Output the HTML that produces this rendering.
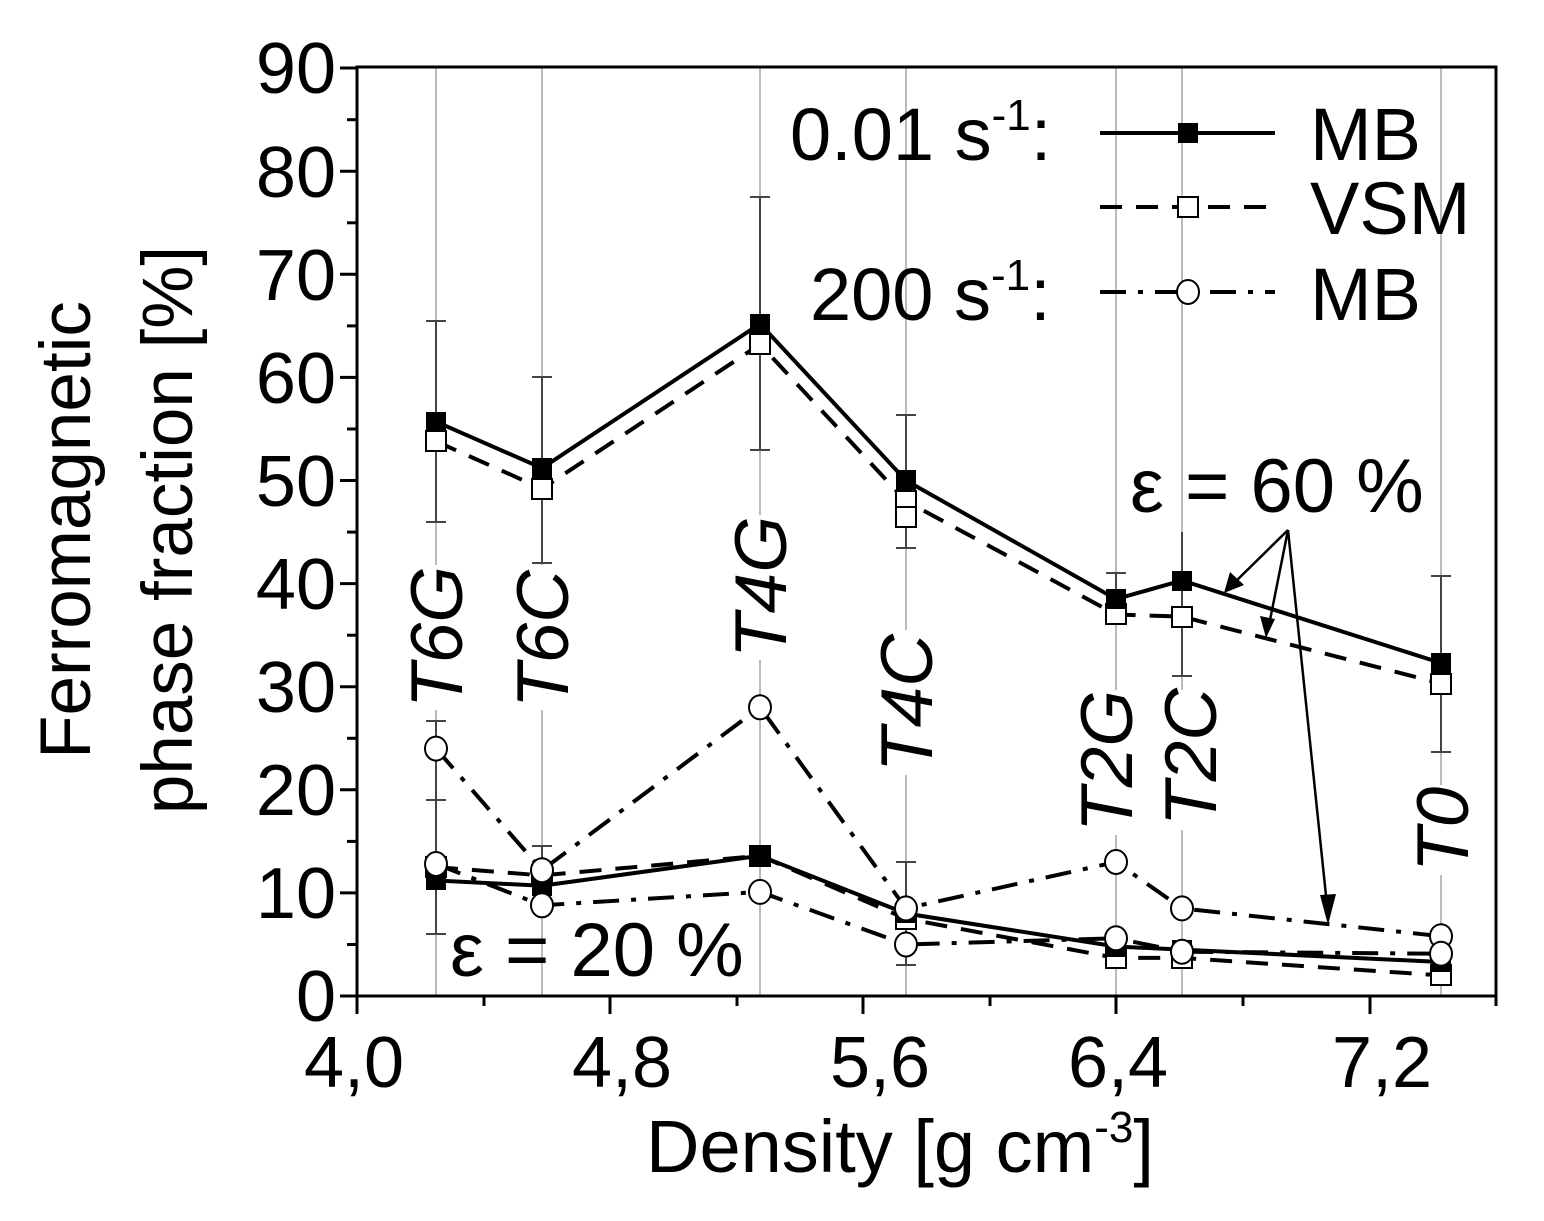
<!DOCTYPE html>
<html><head><meta charset="utf-8"><style>
html,body{margin:0;padding:0;background:#fff}
svg{display:block}
text{font-family:"Liberation Sans",sans-serif;fill:#000}
</style></head><body>
<svg width="1544" height="1221" viewBox="0 0 1544 1221" xmlns="http://www.w3.org/2000/svg">
<rect width="1544" height="1221" fill="#fff"/>
<g stroke="#bbb" stroke-width="2">
<line x1="436" y1="67" x2="436" y2="996"/><line x1="542" y1="67" x2="542" y2="996"/>
<line x1="760" y1="67" x2="760" y2="996"/><line x1="906" y1="67" x2="906" y2="996"/>
<line x1="1116" y1="67" x2="1116" y2="996"/><line x1="1182" y1="67" x2="1182" y2="996"/>
<line x1="1441" y1="67" x2="1441" y2="996"/>
</g>
<g fill="#fff">
<rect x="400" y="565" width="76" height="145"/><rect x="506" y="565" width="76" height="145"/>
<rect x="722" y="515" width="76" height="145"/><rect x="868" y="630" width="76" height="145"/>
<rect x="1076" y="690" width="76" height="145"/><rect x="1150" y="690" width="76" height="140"/>
<rect x="1403" y="785" width="76" height="90"/>
</g>
<g stroke="#444" stroke-width="2">
<line x1="436" y1="321" x2="436" y2="522"/><line x1="426" y1="321" x2="446" y2="321"/><line x1="426" y1="522" x2="446" y2="522"/>
<line x1="542" y1="377" x2="542" y2="563"/><line x1="532" y1="377" x2="552" y2="377"/><line x1="532" y1="563" x2="552" y2="563"/>
<line x1="760" y1="197" x2="760" y2="450"/><line x1="750" y1="197" x2="770" y2="197"/><line x1="750" y1="450" x2="770" y2="450"/>
<line x1="906" y1="415" x2="906" y2="548"/><line x1="896" y1="415" x2="916" y2="415"/><line x1="896" y1="548" x2="916" y2="548"/>
<line x1="1116" y1="573" x2="1116" y2="625"/><line x1="1106" y1="573" x2="1126" y2="573"/>
<line x1="1182" y1="532" x2="1182" y2="676"/><line x1="1172" y1="676" x2="1192" y2="676"/>
<line x1="1441" y1="576" x2="1441" y2="752"/><line x1="1431" y1="576" x2="1451" y2="576"/><line x1="1431" y1="752" x2="1451" y2="752"/>
<line x1="436" y1="721" x2="436" y2="934"/><line x1="426" y1="721" x2="446" y2="721"/><line x1="426" y1="800" x2="446" y2="800"/><line x1="426" y1="934" x2="446" y2="934"/>
<line x1="542" y1="846" x2="542" y2="905"/><line x1="532" y1="846" x2="552" y2="846"/>
<line x1="906" y1="862" x2="906" y2="965"/><line x1="896" y1="862" x2="916" y2="862"/><line x1="896" y1="965" x2="916" y2="965"/>
</g>
<g fill="none" stroke="#000" stroke-width="4">
<polyline points="436,421.7 542,468.1 760,323.8 906,480.5 1116,599.1 1182,580.5 1441,663"/>
<polyline stroke-dasharray="22,14" points="436,441.3 542,488.7 760,344.4 906,501.1 1116,614.5 1182,616.6 1441,683.6"/>
<polyline stroke-dasharray="26,12,5,12" points="436,748.6 542,870.2 760,707.3 906,908.4 1116,862 1182,908.4 1441,936.2"/>
<polyline points="436,880.5 542,885.7 760,855.8 906,913.5 1116,946.5 1182,949.6 1441,962"/>
<polyline stroke-dasharray="22,14" points="436,867.1 542,875.4 760,855.8 906,918.7 1116,957.9 1182,957.9 1441,975.4"/>
<polyline stroke-dasharray="26,12,5,12" points="436,864 542,905.3 760,891.9 906,944.5 1116,938.3 1182,951.7 1441,953.7"/>
</g>
<g fill="#fff" stroke="#000" stroke-width="2">
<rect x="426" y="431" width="20" height="20"/><rect x="532" y="479" width="20" height="20"/><rect x="750" y="334" width="20" height="20"/>
<rect x="896" y="491" width="20" height="20"/><rect x="896" y="507" width="20" height="20"/><rect x="1106" y="604" width="20" height="20"/>
<rect x="1172" y="607" width="20" height="20"/><rect x="1431" y="674" width="20" height="20"/>
<rect x="426" y="857" width="20" height="20"/><rect x="532" y="865" width="20" height="20"/><rect x="750" y="846" width="20" height="20"/>
<rect x="896" y="909" width="20" height="20"/><rect x="1106" y="948" width="20" height="20"/><rect x="1172" y="948" width="20" height="20"/><rect x="1431" y="965" width="20" height="20"/>
</g>
<g fill="#000">
<rect x="426" y="412" width="20" height="20"/><rect x="532" y="458" width="20" height="20"/><rect x="750" y="314" width="20" height="20"/>
<rect x="896" y="470" width="20" height="20"/><rect x="1106" y="589" width="20" height="20"/><rect x="1172" y="571" width="20" height="20"/><rect x="1431" y="653" width="20" height="20"/>
<rect x="426" y="870" width="20" height="20"/><rect x="532" y="876" width="20" height="20"/><rect x="750" y="846" width="20" height="20"/>
<rect x="896" y="903" width="20" height="20"/><rect x="1106" y="937" width="20" height="20"/><rect x="1172" y="940" width="20" height="20"/><rect x="1431" y="952" width="20" height="20"/>
</g>
<g fill="#fff" stroke="#000" stroke-width="2">
<ellipse cx="436" cy="748.6" rx="11" ry="12"/><ellipse cx="542" cy="870.2" rx="11" ry="12"/><ellipse cx="760" cy="707.3" rx="11" ry="12"/>
<ellipse cx="906" cy="908.4" rx="11" ry="12"/><ellipse cx="1116" cy="862" rx="11" ry="12"/><ellipse cx="1182" cy="908.4" rx="11" ry="12"/><ellipse cx="1441" cy="936.2" rx="11" ry="12"/>
<ellipse cx="436" cy="864" rx="11" ry="12"/><ellipse cx="542" cy="905.3" rx="11" ry="12"/><ellipse cx="760" cy="891.9" rx="11" ry="12"/>
<ellipse cx="906" cy="944.5" rx="11" ry="12"/><ellipse cx="1116" cy="938.3" rx="11" ry="12"/><ellipse cx="1182" cy="951.7" rx="11" ry="12"/><ellipse cx="1441" cy="953.7" rx="11" ry="12"/>
</g>
<g font-size="73" font-style="italic">
<text transform="translate(462,708) rotate(-90)">T6G</text>
<text transform="translate(568,708) rotate(-90)">T6C</text>
<text transform="translate(786,658) rotate(-90)">T4G</text>
<text transform="translate(932,772) rotate(-90)">T4C</text>
<text transform="translate(1132,832) rotate(-90)">T2G</text>
<text transform="translate(1216,826) rotate(-90)">T2C</text>
<text transform="translate(1468,872) rotate(-90)">T0</text>
</g>
<g stroke="#000" stroke-width="2.5" fill="#000">
<line x1="1288" y1="530" x2="1230" y2="587"/>
<line x1="1288" y1="530" x2="1268" y2="630"/>
<line x1="1288" y1="530" x2="1328" y2="915"/>
<polygon points="1224,593 1230,572 1244,585" stroke="none"/>
<polygon points="1266,638 1260,616 1275,619" stroke="none"/>
<polygon points="1328,925 1320,895 1336,894" stroke="none"/>
</g>
<text x="1130" y="512" font-size="76">ε = 60 %</text>
<text x="450" y="976" font-size="76">ε = 20 %</text>
<g font-size="74">
<text x="790" y="160">0.01 s<tspan dy="-30" font-size="44">-1</tspan><tspan dy="30">:</tspan></text>
<text x="810" y="320">200 s<tspan dy="-30" font-size="44">-1</tspan><tspan dy="30">:</tspan></text>
<text x="1310" y="160">MB</text>
<text x="1310" y="234">VSM</text>
<text x="1310" y="320">MB</text>
</g>
<g stroke="#000" stroke-width="4" fill="none">
<line x1="1100" y1="133" x2="1275" y2="133"/>
<line x1="1100" y1="207" x2="1275" y2="207" stroke-dasharray="22,14"/>
<line x1="1100" y1="292" x2="1275" y2="292" stroke-dasharray="26,12,5,12"/>
</g>
<rect x="1178" y="123" width="20" height="20" fill="#000"/>
<rect x="1178" y="197" width="20" height="20" fill="#fff" stroke="#000" stroke-width="2"/>
<ellipse cx="1188" cy="292" rx="11" ry="12" fill="#fff" stroke="#000" stroke-width="2"/>
<rect x="357" y="67" width="1139" height="929" fill="none" stroke="#000" stroke-width="3"/>
<g stroke="#000" stroke-width="3">
<line x1="340" y1="996" x2="357" y2="996"/><line x1="340" y1="892.9" x2="357" y2="892.9"/><line x1="340" y1="789.8" x2="357" y2="789.8"/>
<line x1="340" y1="686.7" x2="357" y2="686.7"/><line x1="340" y1="583.6" x2="357" y2="583.6"/><line x1="340" y1="480.5" x2="357" y2="480.5"/>
<line x1="340" y1="377.4" x2="357" y2="377.4"/><line x1="340" y1="274.3" x2="357" y2="274.3"/><line x1="340" y1="171.2" x2="357" y2="171.2"/><line x1="340" y1="68" x2="357" y2="68"/>
<line x1="347" y1="944.5" x2="357" y2="944.5"/><line x1="347" y1="841.4" x2="357" y2="841.4"/><line x1="347" y1="738.3" x2="357" y2="738.3"/>
<line x1="347" y1="635.2" x2="357" y2="635.2"/><line x1="347" y1="532.1" x2="357" y2="532.1"/><line x1="347" y1="429" x2="357" y2="429"/>
<line x1="347" y1="325.9" x2="357" y2="325.9"/><line x1="347" y1="222.8" x2="357" y2="222.8"/><line x1="347" y1="119.7" x2="357" y2="119.7"/>
<line x1="357" y1="996" x2="357" y2="1014"/><line x1="610" y1="996" x2="610" y2="1014"/><line x1="863" y1="996" x2="863" y2="1014"/>
<line x1="1116" y1="996" x2="1116" y2="1014"/><line x1="1370" y1="996" x2="1370" y2="1014"/>
<line x1="484" y1="996" x2="484" y2="1006"/><line x1="737" y1="996" x2="737" y2="1006"/><line x1="990" y1="996" x2="990" y2="1006"/>
<line x1="1243" y1="996" x2="1243" y2="1006"/><line x1="1496" y1="996" x2="1496" y2="1006"/>
</g>
<g font-size="72" text-anchor="end">
<text x="336" y="1021">0</text><text x="336" y="918">10</text><text x="336" y="815">20</text><text x="336" y="712">30</text>
<text x="336" y="609">40</text><text x="336" y="506">50</text><text x="336" y="403">60</text><text x="336" y="300">70</text>
<text x="336" y="197">80</text><text x="336" y="93">90</text>
</g>
<g font-size="72" text-anchor="middle">
<text x="354" y="1087">4,0</text><text x="622" y="1087">4,8</text><text x="880" y="1087">5,6</text>
<text x="1118" y="1087">6,4</text><text x="1382" y="1087">7,2</text>
</g>
<text x="900" y="1172" font-size="74" text-anchor="middle">Density [g cm<tspan dy="-30" font-size="44">-3</tspan><tspan dy="30">]</tspan></text>
<text transform="translate(90,530) rotate(-90)" font-size="71" text-anchor="middle">Ferromagnetic</text>
<text transform="translate(192,530) rotate(-90)" font-size="71" text-anchor="middle">phase fraction [%]</text>
</svg>
</body></html>
